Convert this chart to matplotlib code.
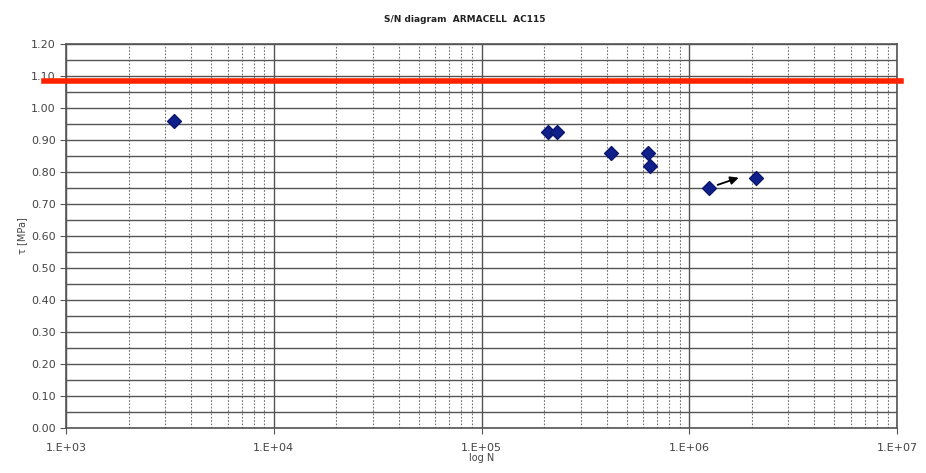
import numpy as np
import matplotlib.pyplot as plt
from matplotlib.ticker import FixedLocator, FuncFormatter, LogLocator, MultipleLocator

# cycles N and shear stress tau [MPa]
cycles = [3300, 2.1e5, 2.3e5, 4.2e5, 6.3e5, 6.5e5, 1.25e6, 2.1e6]
tau = [0.96, 0.925, 0.925, 0.86, 0.86, 0.82, 0.75, 0.78]
static_strength = 1.085
arrow_from = (1.33e6, 0.757)
arrow_to = (1.78e6, 0.785)
x_ticks = [1e3, 1e4, 1e5, 1e6, 1e7]
x_labels = ['1.E+03', '1.E+04', '1.E+05', '1.E+06', '1.E+07']

fig = plt.figure(figsize=(9.26, 4.73), dpi=100)
ax = fig.add_axes([0.0713, 0.0951, 0.8974, 0.8119])

ax.set_xscale('log')
ax.set_xlim(1e3, 1e7)
ax.set_ylim(0, 1.2)

ax.xaxis.set_major_locator(FixedLocator(x_ticks))
ax.xaxis.set_major_formatter(FuncFormatter(lambda v, p: x_labels[int(round(np.log10(v))) - 3]))
ax.xaxis.set_minor_locator(LogLocator(base=10, subs=np.arange(2, 10)))
ax.xaxis.set_minor_formatter(FuncFormatter(lambda v, p: ''))
ax.yaxis.set_major_locator(MultipleLocator(0.1))
ax.yaxis.set_minor_locator(MultipleLocator(0.05))
ax.yaxis.set_major_formatter(FuncFormatter(lambda v, p: f'{v:.2f}'))

ax.grid(True, which='major', axis='both', color='#555555', lw=1.0)
ax.grid(True, which='minor', axis='y', color='#555555', lw=1.0)
ax.grid(True, which='minor', axis='x', color='#707070', lw=0.8, ls=(0, (1.5, 1.5)))
ax.set_axisbelow(True)

for s in ax.spines.values():
    s.set_color('#555555')
    s.set_linewidth(1.2)

ax.tick_params(axis='both', which='major', labelsize=8, labelcolor='#444444',
               color='#555555', length=4, direction='out')
ax.tick_params(axis='both', which='minor', length=0)
ax.tick_params(axis='x', pad=7)

ax.axhline(static_strength, xmin=-0.027, xmax=1.005, color='#ff2200', lw=4, clip_on=False, zorder=3)

ax.scatter(cycles, tau, marker='D', s=50, color='#10208a', edgecolors='#0a1670', zorder=4)
ax.annotate('', xy=arrow_to, xytext=arrow_from,
            arrowprops=dict(arrowstyle='-|>', color='black', lw=1.3, mutation_scale=12), zorder=5)

fig.text(0.502, 0.958, 'S/N diagram  ARMACELL  AC115', ha='center', va='center',
         fontsize=6.5, fontweight='bold', color='#222222')
ax.set_xlabel('log N', fontsize=7, color='#444444', labelpad=0)
ax.set_ylabel('τ [MPa]', fontsize=7, color='#444444', labelpad=3)

fig.savefig('out.png', dpi=100)
